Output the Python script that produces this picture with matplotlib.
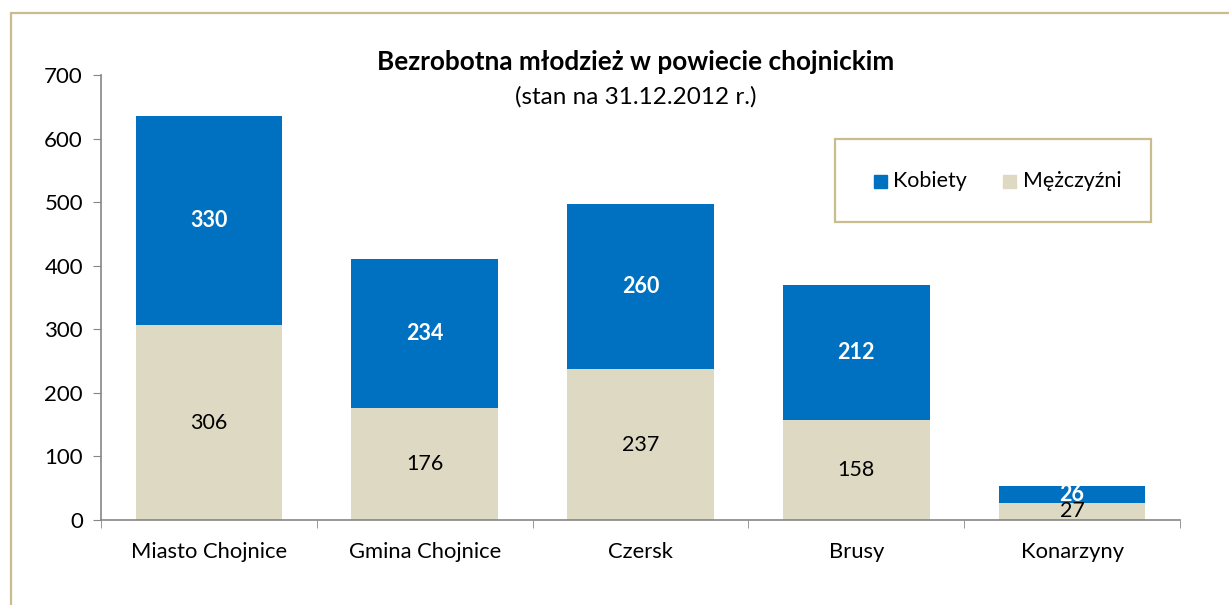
import matplotlib
matplotlib.use("Agg")
import matplotlib.pyplot as plt
from matplotlib.patches import Rectangle

plt.rcParams['font.family'] = ['Lato', 'DejaVu Sans']

categories = ["Miasto Chojnice", "Gmina Chojnice", "Czersk", "Brusy", "Konarzyny"]
mezczyzni = [306, 176, 237, 158, 27]
kobiety = [330, 234, 260, 212, 26]
yticks = [0, 100, 200, 300, 400, 500, 600, 700]

BLUE = "#0070C0"
TAN = "#DDD9C3"
BORDER = "#C9BD8E"
AXIS = "#868686"

W, H = 1229, 605
fig = plt.figure(figsize=(W / 100, H / 100), dpi=100)
fig.patch.set_facecolor("white")

# outer chart border
fig.patches.append(Rectangle((10.5 / W, -0.05), 1.2, 1 - 12.5 / H + 0.05,
                             transform=fig.transFigure, fill=False,
                             edgecolor=BORDER, linewidth=1.6))

ax = fig.add_axes([101 / W, 1 - 520 / H, (1180 - 101) / W, (520 - 75) / H])
x = list(range(len(categories)))
bw = 0.68
ax.bar(x, mezczyzni, width=bw, color=TAN, label="Mężczyźni", zorder=2)
ax.bar(x, kobiety, width=bw, bottom=mezczyzni, color=BLUE, label="Kobiety", zorder=2)

ax.set_ylim(0, 700)
ax.set_xlim(-0.5, len(categories) - 0.5)
ax.set_yticks(yticks)
ax.set_xticks(x)
ax.set_xticklabels(categories)
ax.set_xticks([i - 0.5 for i in range(len(categories) + 1)], minor=True)
ax.tick_params(axis='x', which='major', length=0, pad=16, labelsize=15.8)
ax.tick_params(axis='x', which='minor', length=6, color=AXIS, direction='out')
ax.tick_params(axis='y', length=6, color=AXIS, labelsize=16, pad=7, direction='out')
for s in ["top", "right"]:
    ax.spines[s].set_visible(False)
for s in ["left", "bottom"]:
    ax.spines[s].set_color(AXIS)
    ax.spines[s].set_linewidth(1.2)
ax.set_facecolor("none")

for i in x:
    ax.text(i, mezczyzni[i] / 2, str(mezczyzni[i]), ha='center', va='center',
            fontsize=15.5, color='black', zorder=3)
    ax.text(i, mezczyzni[i] + kobiety[i] / 2, str(kobiety[i]), ha='center', va='center',
            fontsize=15.5, color='white', fontweight='bold', zorder=3)

fig.text(636 / W, 1 - 62 / H, "Bezrobotna młodzież w powiecie chojnickim",
         ha='center', va='center', fontsize=18.8, fontweight='bold')
fig.text(636 / W, 1 - 97 / H, "(stan na 31.12.2012 r.)",
         ha='center', va='center', fontsize=17.5)

# legend box
lx0, ly0, lx1, ly1 = 835, 139, 1151, 222
fig.patches.append(Rectangle((lx0 / W, 1 - ly1 / H), (lx1 - lx0) / W, (ly1 - ly0) / H,
                             transform=fig.transFigure, facecolor='white',
                             edgecolor=BORDER, linewidth=1.6))
ymid = 1 - 181 / H
sq = 13
fig.patches.append(Rectangle((874 / W, ymid - sq / 2 / H), sq / W, sq / H,
                             transform=fig.transFigure, color=BLUE))
fig.text(893 / W, ymid, "Kobiety", ha='left', va='center', fontsize=15.4)
fig.patches.append(Rectangle((1003 / W, ymid - sq / 2 / H), sq / W, sq / H,
                             transform=fig.transFigure, color=TAN))
fig.text(1023 / W, ymid, "Mężczyźni", ha='left', va='center', fontsize=15.4)

fig.savefig("out.png", dpi=100, facecolor="white")
